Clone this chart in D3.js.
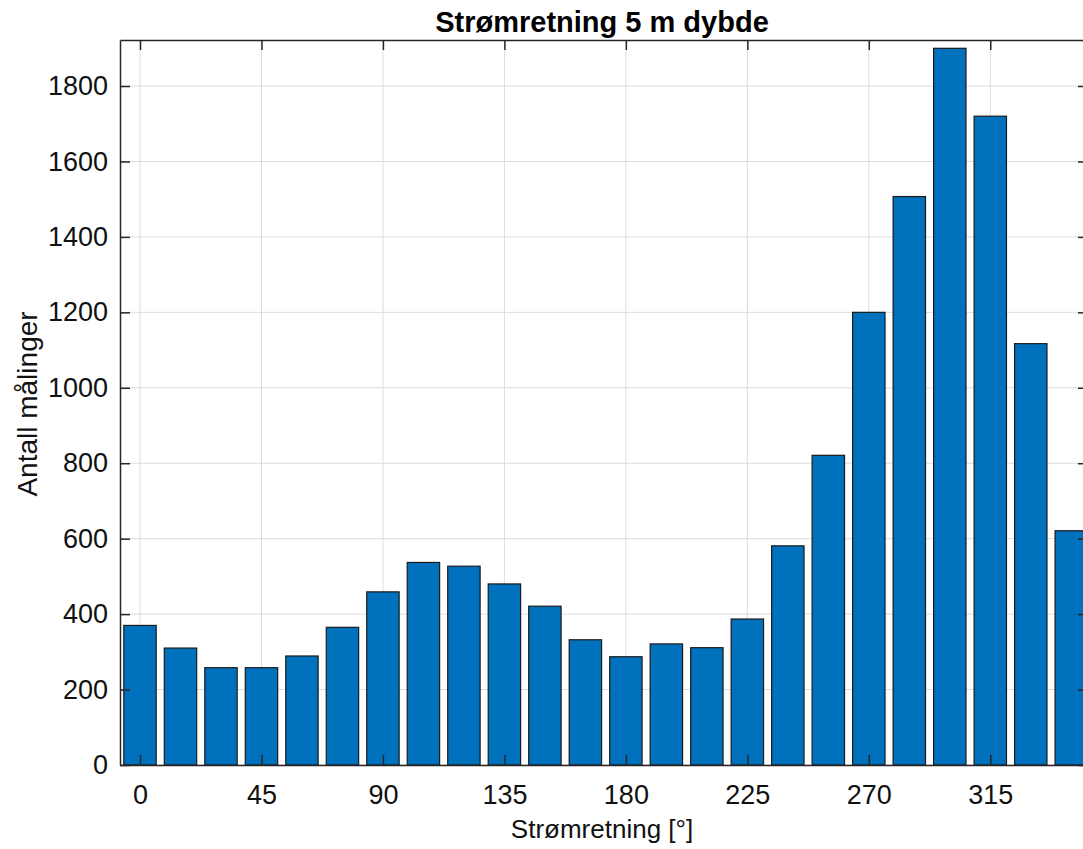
<!DOCTYPE html>
<html>
<head>
<meta charset="utf-8">
<script src="https://cdn.jsdelivr.net/npm/d3@7"></script>
<style>
  html, body { margin: 0; padding: 0; background: #fff; }
  svg { display: block; font-family: "Liberation Sans", Arial, Helvetica, sans-serif; }
</style>
</head>
<body>
<svg id="chart" width="1083" height="849"></svg>
<script>
// ---- data ----
const directions = [0, 15, 30, 45, 60, 75, 90, 105, 120, 135, 150, 165, 180, 195, 210, 225, 240, 255, 270, 285, 300, 315, 330, 345];
const counts = [370, 310, 258, 258, 289, 365, 459, 537, 527, 480, 421, 332, 287, 321, 311, 387, 581, 821, 1200, 1507, 1900, 1720, 1117, 621];
const xTickValues = [0, 45, 90, 135, 180, 225, 270, 315];
const yTickValues = [0, 200, 400, 600, 800, 1000, 1200, 1400, 1600, 1800];
const titleText = "Strømretning 5 m dybde";
const xLabelText = "Strømretning [°]";
const yLabelText = "Antall målinger";

// ---- layout ----
const svg = d3.select("#chart");
const mLeft = 120, mRight = 1088, mTop = 40, mBottom = 765;
const binWidth = 15, barFrac = 0.8;

const x = d3.scaleLinear().domain([-7.41, 351.2]).range([mLeft, mRight]);
const y = d3.scaleLinear().domain([0, 1922]).range([mBottom, mTop]);

const axisColor = "#262626";
const gridColor = "#dcdcdc";

svg.append("defs").append("clipPath").attr("id", "clip")
  .append("rect").attr("x", mLeft).attr("y", mTop).attr("width", mRight - mLeft).attr("height", mBottom - mTop);

// grid
const grid = svg.append("g");
grid.selectAll("line.vg").data(xTickValues).join("line")
  .attr("x1", d => x(d)).attr("x2", d => x(d)).attr("y1", mTop).attr("y2", mBottom)
  .attr("stroke", gridColor).attr("stroke-width", 1);
grid.selectAll("line.hg").data(yTickValues).join("line")
  .attr("x1", mLeft).attr("x2", mRight).attr("y1", d => y(d)).attr("y2", d => y(d))
  .attr("stroke", gridColor).attr("stroke-width", 1);

// bars
svg.append("g").attr("clip-path", "url(#clip)")
  .selectAll("rect").data(directions).join("rect")
  .attr("x", (d) => x(d - binWidth * barFrac / 2))
  .attr("width", (d) => x(d + binWidth * barFrac / 2) - x(d - binWidth * barFrac / 2))
  .attr("y", (d, i) => y(counts[i]))
  .attr("height", (d, i) => y(0) - y(counts[i]))
  .attr("fill", "#0072BD")
  .attr("stroke", "#1a1a1a")
  .attr("stroke-width", 1.2);

// axes
const tickLen = 10;
const fmt = d3.format("d");
const xAxis = d3.axisBottom(x).tickValues(xTickValues).tickFormat(fmt).tickSizeInner(-tickLen).tickSizeOuter(0).tickPadding(20);
const gx = svg.append("g").attr("transform", `translate(0,${mBottom})`).call(xAxis);
const xAxisTop = d3.axisTop(x).tickValues(xTickValues).tickSizeInner(-tickLen).tickSizeOuter(0).tickFormat("");
const gxt = svg.append("g").attr("transform", `translate(0,${mTop})`).call(xAxisTop);
const yAxis = d3.axisLeft(y).tickValues(yTickValues).tickFormat(fmt).tickSizeInner(-tickLen).tickSizeOuter(0).tickPadding(12);
const gy = svg.append("g").attr("transform", `translate(${mLeft},0)`).call(yAxis);
const yAxisRight = d3.axisRight(y).tickValues(yTickValues).tickSizeInner(-tickLen).tickSizeOuter(0).tickFormat("");
const gyr = svg.append("g").attr("transform", `translate(${mRight},0)`).call(yAxisRight);

[gx, gxt, gy, gyr].forEach(g => {
  g.select(".domain").attr("stroke", axisColor).attr("stroke-width", 1.5);
  g.selectAll(".tick line").attr("stroke", axisColor).attr("stroke-width", 1.5);
  g.selectAll(".tick text").attr("fill", "#111").style("font-size", "27px")
    .style("font-family", '"Liberation Sans", Arial, Helvetica, sans-serif');
});
gx.selectAll(".tick text").attr("dy", "0.71em");

// title & labels
svg.append("text").attr("x", 602).attr("y", 32).attr("text-anchor", "middle")
  .style("font-size", "29px").style("font-weight", "bold").attr("fill", "#000").text(titleText);
svg.append("text").attr("x", 602).attr("y", 838).attr("text-anchor", "middle")
  .style("font-size", "26px").attr("fill", "#111").text(xLabelText);
svg.append("text").attr("transform", `translate(37,404) rotate(-90)`).attr("text-anchor", "middle")
  .style("font-size", "28px").attr("fill", "#111").text(yLabelText);
</script>
</body>
</html>
